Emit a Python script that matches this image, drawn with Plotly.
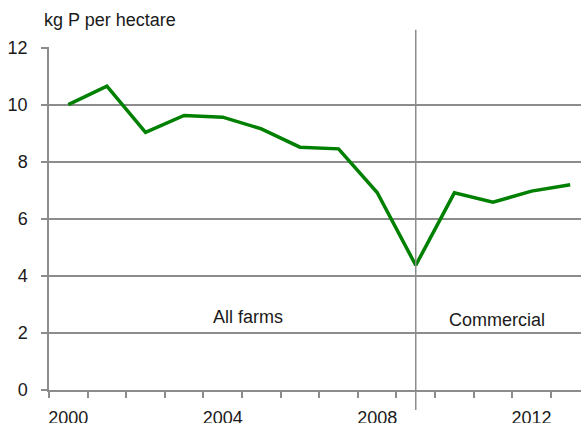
import plotly.graph_objects as go

years = [2000, 2001, 2002, 2003, 2004, 2005, 2006, 2007, 2008, 2009, 2010, 2011, 2012, 2013]
p_per_ha = [10.0, 10.65, 9.03, 9.62, 9.56, 9.15, 8.51, 8.45, 6.92, 4.37, 6.91, 6.58, 6.97, 7.19]
tick_years = [2000, 2004, 2008, 2012]
y_ticks = [0, 2, 4, 6, 8, 10, 12]
break_year = 2009
labels = [("All farms", 2004.66, 2.55), ("Commercial", 2011.1, 2.45)]

FONT = "Arial, Liberation Sans, sans-serif"
GRID = "#8c8c8c"
TXT = "#1a1a1a"

fig = go.Figure()
fig.add_trace(go.Scatter(
    x=years, y=p_per_ha, mode="lines",
    line=dict(color="#008000", width=3.5),
    hoverinfo="skip", showlegend=False,
))

fig.add_shape(type="line", xref="x", yref="paper",
              x0=break_year, x1=break_year, y0=-0.058, y1=1.05,
              line=dict(color=GRID, width=1.5), layer="above")

for txt, x, y in labels:
    fig.add_annotation(x=x, y=y, text=txt, showarrow=False,
                       font=dict(family=FONT, size=18, color=TXT))

fig.update_layout(
    width=581, height=423,
    margin=dict(l=49, r=0, t=47, b=33, autoexpand=False),
    paper_bgcolor="white", plot_bgcolor="white",
    font=dict(family=FONT, size=18, color=TXT),
    title=dict(text="kg P per hectare", x=44/581, xanchor="left",
               y=1 - 20/423, yanchor="middle",
               font=dict(family=FONT, size=18, color=TXT)),
    xaxis=dict(
        range=[1999.5, 2013.28],
        tickmode="array", tickvals=tick_years, ticktext=[str(t) for t in tick_years],
        ticks="", showgrid=False, zeroline=False,
        showline=True, linecolor=GRID, linewidth=1.5,
        ticklabelstandoff=11,
        minor=dict(tick0=1999.5, dtick=1, ticks="outside", ticklen=6,
                   tickcolor=GRID, tickwidth=1.5, showgrid=False),
    ),
    yaxis=dict(
        range=[0, 12.02],
        tickmode="array", tickvals=y_ticks,
        ticks="outside", ticklen=6, tickcolor=GRID, tickwidth=1.5,
        showgrid=True, gridcolor=GRID, gridwidth=1.5,
        zeroline=False,
        showline=True, linecolor=GRID, linewidth=1.5,
        ticklabelstandoff=10,
    ),
)

fig.write_html("out.html", config={"displayModeBar": False})
with open("out.html", encoding="utf-8") as f:
    html = f.read()
html = html.replace("<head>", "<head><style>html,body{margin:0;padding:0;overflow:hidden;}</style>", 1)
with open("out.html", "w", encoding="utf-8") as f:
    f.write(html)
